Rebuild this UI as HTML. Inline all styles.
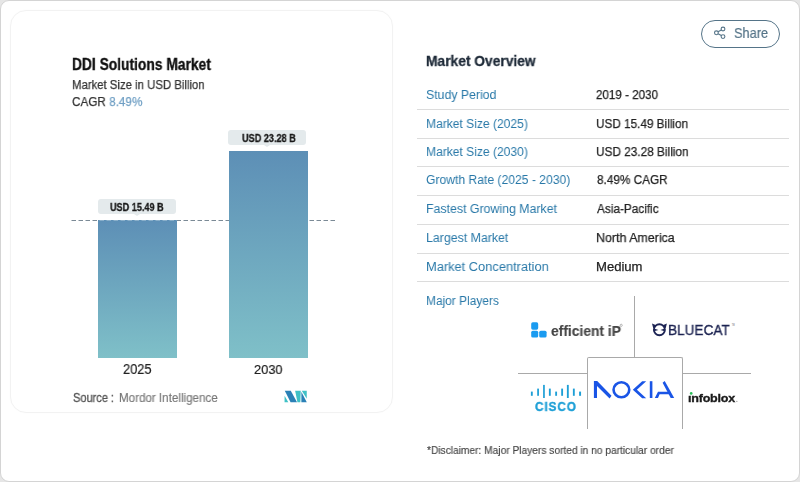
<!DOCTYPE html>
<html><head><meta charset="utf-8">
<style>
html,body{margin:0;padding:0;background:#e6e6e6;}
body{width:800px;height:482px;position:relative;overflow:hidden;font-family:"Liberation Sans",sans-serif;}
.t{position:absolute;white-space:nowrap;line-height:1;transform-origin:0 0;will-change:transform;}
.a{position:absolute;}
#outer{position:absolute;left:0;top:0;width:798px;height:480px;border:1px solid #d4d4d4;border-radius:9px;background:#fff;}
#card{position:absolute;left:10px;top:10px;width:381px;height:401px;border:1px solid #f2f2f2;border-radius:16px;box-shadow:0 0 2px rgba(0,0,0,0.02);}
.bar{position:absolute;background:linear-gradient(to bottom,#5d8fb6,#7fc0c8);}
.pill{position:absolute;background:#e4eaec;border-radius:3px;}
.pill:after{content:"";position:absolute;left:50%;bottom:-2px;margin-left:-3px;border-left:3px solid transparent;border-right:3px solid transparent;border-top:2px solid #e4eaec;}
.hr{position:absolute;left:417px;width:372px;height:1px;background:#dcdcdc;}
.gl{position:absolute;background:#a9a9a9;}
</style></head><body>
<div id="outer"></div>
<div id="card"></div>

<svg class="a" style="left:0;top:0" width="400" height="420">
  <line x1="71.5" y1="220.5" x2="337" y2="220.5" stroke="#7b8a96" stroke-width="1" stroke-dasharray="4.5 2.5"/>
</svg>
<div class="bar" style="left:98px;top:220px;width:79px;height:138px;"></div>
<div class="bar" style="left:229px;top:151px;width:79px;height:207px;"></div>
<div class="pill" style="left:98px;top:199px;width:78px;height:15px;"></div>
<div class="pill" style="left:228px;top:130px;width:78px;height:15px;"></div>

<svg class="a" style="left:0;top:0" width="400" height="420">
  <line x1="98" y1="220.5" x2="177" y2="220.5" stroke="rgba(180,205,222,0.5)" stroke-width="1" stroke-dasharray="4.5 2.5" stroke-dashoffset="5.5"/>
</svg>
<!-- mordor logo -->
<svg class="a" style="left:280px;top:386px" width="32" height="20" viewBox="0 0 771 482">
  <polygon points="110,235 110,390 200,390" fill="#3fc1c6"/>
  <polygon points="115,115 260,115 410,390 255,390" fill="#2a80b6"/>
  <polygon points="365,115 500,115 490,390 420,390" fill="#3fc1c6"/>
  <polygon points="525,115 645,115 645,310" fill="#3fc1c6"/>
  <polygon points="515,140 645,390 515,390" fill="#2a80b6"/>
</svg>

<!-- share -->
<div class="a" style="left:701px;top:19.5px;width:77px;height:26px;border:1.3px solid #557488;border-radius:14px;"></div>
<svg class="a" style="left:712px;top:25px" width="16" height="16" viewBox="0 0 16 16">
  <g fill="none" stroke="#557488" stroke-width="1.1">
    <circle cx="11" cy="4" r="1.9"/><circle cx="4.4" cy="7.8" r="1.9"/><circle cx="11" cy="11.6" r="1.9"/>
    <line x1="6.1" y1="6.8" x2="9.3" y2="5"/><line x1="6.1" y1="8.8" x2="9.3" y2="10.6"/>
  </g>
</svg>

<div class="hr" style="top:109px;"></div>
<div class="hr" style="top:138px;"></div>
<div class="hr" style="top:166px;"></div>
<div class="hr" style="top:195px;"></div>
<div class="hr" style="top:224px;"></div>
<div class="hr" style="top:253px;"></div>
<div class="hr" style="top:281px;"></div>

<!-- logo grid -->
<div class="gl" style="left:634px;top:296px;width:1px;height:61px;"></div>
<div class="gl" style="left:518px;top:372.5px;width:69px;height:1px;"></div>
<div class="gl" style="left:682px;top:372.5px;width:69px;height:1px;"></div>
<div class="a" style="left:587px;top:357px;width:94px;height:71px;border:1px solid #a9a9a9;border-bottom:none;border-radius:2px 2px 0 0;"></div>

<!-- logos -->
<svg class="a" style="left:0;top:0" width="800" height="482" viewBox="0 0 800 482">
  <!-- efficient iP squares -->
  <g fill="#1a9bf0">
    <rect x="531.2" y="322.3" width="7" height="7.4" rx="1.6"/>
    <rect x="531.2" y="330.7" width="7" height="6.9" rx="1.6"/>
    <rect x="539.2" y="330.7" width="7.4" height="6.9" rx="1.6"/>
  </g>
  <circle cx="621.2" cy="325.3" r="1.1" fill="none" stroke="#777" stroke-width="0.5"/>
  <!-- bluecat icon -->
  <g fill="#1d2454">
    <path d="M652.0,323.4 L656.2,325.3 L653.3,328.6 Z"/>
    <path d="M666.9,323.4 L662.7,325.3 L665.6,328.6 Z"/>
    <path d="M654.0,328.5 L658.4,329.9 L654.0,331.3 Z M664.8,328.5 L660.4,329.9 L664.8,331.3 Z"/>
  </g>
  <circle cx="659.4" cy="329.7" r="5.5" fill="none" stroke="#1d2454" stroke-width="1.9"/>
  <text x="731.7" y="326.4" font-family="Liberation Sans" font-size="2.8" textLength="2.9" lengthAdjust="spacingAndGlyphs" fill="#666">TM</text>
  <!-- cisco bars -->
  <g fill="#1d9fd6">
    <rect x="530.9" y="391.6" width="1.85" height="4.2"/>
    <rect x="537.2" y="388.6" width="1.75" height="7.2"/>
    <rect x="543.1" y="384.9" width="1.7" height="13.1"/>
    <rect x="548.9" y="388.6" width="1.85" height="7.2"/>
    <rect x="555.2" y="391.6" width="1.85" height="4.2"/>
    <rect x="561.2" y="388.6" width="1.85" height="7.2"/>
    <rect x="566.9" y="384.9" width="1.85" height="13.1"/>
    <rect x="572.9" y="388.6" width="1.85" height="7.2"/>
    <rect x="579.1" y="391.6" width="1.95" height="4.2"/>
  </g>
  <!-- nokia -->
  <g fill="#1a55e6">
    <polygon points="593.9,381.1 597.2,381.1 611.5,395.8 609.6,398.4 597.0,385.9 597.0,398.0 593.9,398.0"/>
    <polygon points="642.2,381.2 646.2,381.2 636.9,389.75 646.2,398.3 642.2,398.3 632.8,389.75"/>
    <rect x="649.8" y="381.2" width="2.6" height="16.8"/>
    <polygon points="662.6,382.8 664.7,381.0 674.2,398.0 670.7,398.0"/>
    <polygon points="658.0,391.7 668.5,391.7 669.8,394.2 659.6,394.2 658.0,398.0 654.8,398.0"/>
  </g>
  <ellipse cx="621.4" cy="389.75" rx="7.85" ry="7.5" fill="none" stroke="#1a55e6" stroke-width="2.6"/>
  <!-- infoblox dot -->
  <circle cx="691.2" cy="393.4" r="1.35" fill="#2bbf5a"/>
  <circle cx="736.9" cy="401.2" r="0.5" fill="#555"/>
</svg>

<div class="t" id="t1" style="left:72.31px;top:56.10px;font-size:16.35px;font-weight:bold;color:#111111;transform:scaleX(0.8448);-webkit-text-stroke:0.35px #111111;">DDI Solutions Market</div>
<div class="t" id="t2" style="left:72.13px;top:77.78px;font-size:13.08px;font-weight:normal;color:#333333;transform:scaleX(0.8689);-webkit-text-stroke:0.25px #333333;">Market Size in USD Billion</div>
<div class="t" id="t3" style="left:72.10px;top:95.38px;font-size:13.08px;font-weight:normal;color:#333333;transform:scaleX(0.8961);-webkit-text-stroke:0.25px #333333;">CAGR&nbsp;<span style="color:#6f9fc4;-webkit-text-stroke-color:#6f9fc4">8.49%</span></div>
<div class="t" id="p1" style="left:110.40px;top:202.19px;font-size:11.19px;font-weight:bold;color:#1a1a1a;transform:scaleX(0.8136);-webkit-text-stroke:0.3px #1a1a1a;">USD 15.49 B</div>
<div class="t" id="p2" style="left:241.50px;top:133.23px;font-size:10.90px;font-weight:bold;color:#1a1a1a;transform:scaleX(0.8375);-webkit-text-stroke:0.3px #1a1a1a;">USD 23.28 B</div>
<div class="t" id="y1" style="left:123.07px;top:362.76px;font-size:13.81px;font-weight:normal;color:#222222;transform:scaleX(0.9310);-webkit-text-stroke:0.2px #222222;">2025</div>
<div class="t" id="y2" style="left:254.31px;top:364.20px;font-size:12.94px;font-weight:normal;color:#222222;transform:scaleX(0.9889);-webkit-text-stroke:0.2px #222222;">2030</div>
<div class="t" id="s1" style="left:73.07px;top:393.33px;font-size:11.85px;font-weight:normal;color:#555555;transform:scaleX(0.9310);-webkit-text-stroke:0.3px #555555;">Source :</div>
<div class="t" id="s2" style="left:119.02px;top:393.33px;font-size:11.85px;font-weight:normal;color:#777777;transform:scaleX(0.9798);-webkit-text-stroke:0.15px #777777;">Mordor Intelligence</div>
<div class="t" id="sh" style="left:733.98px;top:24.98px;font-size:15.55px;font-weight:normal;color:#557488;transform:scaleX(0.8225);-webkit-text-stroke:0.2px #557488;">Share</div>
<div class="t" id="mo" style="left:426.05px;top:54.15px;font-size:14.53px;font-weight:bold;color:#1e2a38;transform:scaleX(0.9500);-webkit-text-stroke:0.3px #1e2a38;">Market Overview</div>
<div class="t" id="l0" style="left:426.06px;top:88.48px;font-size:13.08px;font-weight:normal;color:#2878a8;transform:scaleX(0.9411);">Study Period</div>
<div class="t" id="v0" style="left:595.71px;top:88.48px;font-size:13.08px;font-weight:normal;color:#222222;transform:scaleX(0.8882);-webkit-text-stroke:0.25px #222222;">2019 - 2030</div>
<div class="t" id="l1" style="left:426.08px;top:116.53px;font-size:13.08px;font-weight:normal;color:#2878a8;transform:scaleX(0.9220);">Market Size (2025)</div>
<div class="t" id="v1" style="left:595.70px;top:116.53px;font-size:13.08px;font-weight:normal;color:#222222;transform:scaleX(0.8980);-webkit-text-stroke:0.25px #222222;">USD 15.49 Billion</div>
<div class="t" id="l2" style="left:426.08px;top:145.28px;font-size:13.08px;font-weight:normal;color:#2878a8;transform:scaleX(0.9220);">Market Size (2030)</div>
<div class="t" id="v2" style="left:595.70px;top:145.28px;font-size:13.08px;font-weight:normal;color:#222222;transform:scaleX(0.9025);-webkit-text-stroke:0.25px #222222;">USD 23.28 Billion</div>
<div class="t" id="l3" style="left:426.07px;top:173.38px;font-size:13.08px;font-weight:normal;color:#2878a8;transform:scaleX(0.9273);">Growth Rate (2025 - 2030)</div>
<div class="t" id="v3" style="left:596.60px;top:173.38px;font-size:13.08px;font-weight:normal;color:#222222;transform:scaleX(0.8994);-webkit-text-stroke:0.25px #222222;">8.49% CAGR</div>
<div class="t" id="l4" style="left:426.06px;top:202.28px;font-size:13.08px;font-weight:normal;color:#2878a8;transform:scaleX(0.9435);">Fastest Growing Market</div>
<div class="t" id="v4" style="left:596.60px;top:202.28px;font-size:13.08px;font-weight:normal;color:#222222;transform:scaleX(0.9029);-webkit-text-stroke:0.25px #222222;">Asia-Pacific</div>
<div class="t" id="l5" style="left:426.06px;top:230.78px;font-size:13.08px;font-weight:normal;color:#2878a8;transform:scaleX(0.9442);">Largest Market</div>
<div class="t" id="v5" style="left:595.65px;top:230.78px;font-size:13.08px;font-weight:normal;color:#222222;transform:scaleX(0.9500);-webkit-text-stroke:0.25px #222222;">North America</div>
<div class="t" id="l6" style="left:426.02px;top:260.48px;font-size:13.08px;font-weight:normal;color:#2878a8;transform:scaleX(0.9817);">Market Concentration</div>
<div class="t" id="v6" style="left:595.60px;top:260.48px;font-size:13.08px;font-weight:normal;color:#222222;transform:scaleX(1.0000);-webkit-text-stroke:0.25px #222222;">Medium</div>
<div class="t" id="mp" style="left:426.39px;top:293.58px;font-size:13.08px;font-weight:normal;color:#2878a8;transform:scaleX(0.9114);">Major Players</div>
<div class="t" id="ef" style="left:550.61px;top:324.10px;font-size:14.00px;font-weight:bold;color:#454545;transform:scaleX(0.9877);-webkit-text-stroke:0.15px #454545;">efficient iP</div>
<div class="t" id="bc" style="left:668.32px;top:323.84px;font-size:13.95px;font-weight:normal;color:#1b2250;transform:scaleX(0.9758);-webkit-text-stroke:0.35px #1b2250;">BLUECAT</div>
<div class="t" id="cs" style="left:535.40px;top:400.60px;font-size:12.35px;font-weight:bold;color:#1d9fd6;transform:scaleX(0.9500);letter-spacing:1.0px;-webkit-text-stroke:0.4px #1d9fd6;">CISCO</div>
<div class="t" id="ib" style="left:688.06px;top:393.34px;font-size:11.48px;font-weight:bold;color:#1b1b1b;transform:scaleX(1.0917);letter-spacing:-0.2px;-webkit-text-stroke:0.35px #1b1b1b;">&#305;nfoblox</div>
<div class="t" id="dc" style="left:426.75px;top:445.06px;font-size:10.76px;font-weight:normal;color:#444444;transform:scaleX(0.9475);-webkit-text-stroke:0.15px #444444;">*Disclaimer: Major Players sorted in no particular order</div>
</body></html>
